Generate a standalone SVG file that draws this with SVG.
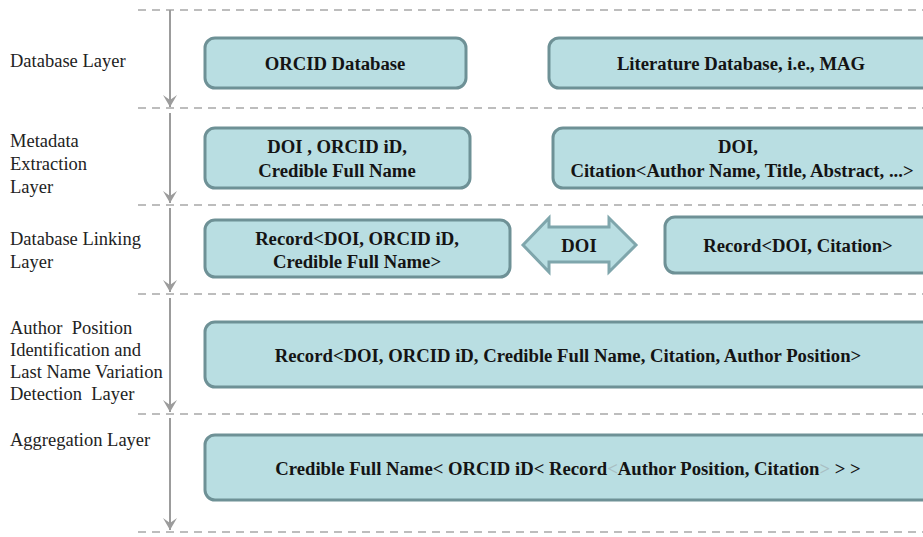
<svg xmlns="http://www.w3.org/2000/svg" width="923" height="537" viewBox="0 0 923 537">
<style>
.sep{stroke:#bdbdbd;stroke-width:2;stroke-dasharray:8 6;fill:none}
.flow{stroke:#9c9c9c;stroke-width:2;fill:none;marker-end:url(#ah)}
.box{fill:#b9dee2;stroke:#6e9196;stroke-width:3}
text{font-family:'Liberation Serif','Tinos','Times New Roman','DejaVu Serif',serif}
.lbl{font-size:18.5px;fill:#222}
.bt{font-size:18.7px;font-weight:bold;fill:#141414;text-anchor:middle}
.faint{fill:#a9bfc3}
</style>
<defs>
<marker id="ah" viewBox="0 0 12 14" refX="12" refY="7" markerWidth="12" markerHeight="14" markerUnits="userSpaceOnUse" orient="auto">
<path d="M0,0 L12,7 L0,14 L5,7 Z" fill="#9c9c9c"/>
</marker>
</defs>
<rect width="923" height="537" fill="#ffffff"/>
<g id="layer-separators">
<line class="sep" x1="138" y1="10" x2="923" y2="10"/>
<line class="sep" x1="138" y1="108" x2="923" y2="108"/>
<line class="sep" x1="138" y1="205" x2="923" y2="205"/>
<line class="sep" x1="138" y1="294" x2="923" y2="294"/>
<line class="sep" x1="138" y1="414" x2="923" y2="414"/>
<line class="sep" x1="138" y1="532" x2="923" y2="532"/>
</g>
<g id="layer-labels">
<text class="lbl" x="10" y="67">Database Layer</text>
<text class="lbl" x="10" y="147">Metadata</text>
<text class="lbl" x="10" y="170">Extraction</text>
<text class="lbl" x="10" y="193">Layer</text>
<text class="lbl" x="10" y="245">Database Linking</text>
<text class="lbl" x="10" y="268">Layer</text>
<text class="lbl" x="10" y="334" xml:space="preserve">Author  Position</text>
<text class="lbl" x="10" y="356">Identification and</text>
<text class="lbl" x="10" y="378">Last Name Variation</text>
<text class="lbl" x="10" y="400" xml:space="preserve">Detection  Layer</text>
<text class="lbl" x="10" y="446">Aggregation Layer</text>
</g>
<g id="connectors">
<path class="flow" d="M170,10 V107"/>
<path class="flow" d="M170,113 V203"/>
<path class="flow" d="M170,208 V292"/>
<path class="flow" d="M170,298 V412"/>
<path class="flow" d="M170,418 V530"/>
</g>
<g id="orcid-database">
<rect class="box" x="205" y="38" width="261" height="50" rx="10"/>
<text class="bt" x="335" y="70">ORCID Database</text>
</g>
<g id="literature-database">
<rect class="box" x="549" y="38" width="400" height="50" rx="10"/>
<text class="bt" x="741" y="70">Literature Database, i.e., MAG</text>
</g>
<g id="orcid-metadata">
<rect class="box" x="205" y="128" width="265" height="60" rx="10"/>
<text class="bt" x="337" y="153">DOI , ORCID iD,</text>
<text class="bt" x="337" y="177">Credible Full Name</text>
</g>
<g id="literature-metadata">
<rect class="box" x="553" y="128" width="400" height="60" rx="10"/>
<text class="bt" x="738" y="153">DOI,</text>
<text class="bt" x="742" y="177">Citation&lt;Author Name, Title, Abstract, ...&gt;</text>
</g>
<g id="orcid-record">
<rect class="box" x="205" y="220" width="305" height="57" rx="10"/>
<text class="bt" x="357" y="245">Record&lt;DOI, ORCID iD,</text>
<text class="bt" x="357" y="268">Credible Full Name&gt;</text>
</g>
<g id="doi-link">
<path d="M523,245 L549,218 L549,227 L609,227 L609,218 L636,245 L609,272 L609,262 L549,262 L549,272 Z" fill="#b9dee2" stroke="#7fa6ac" stroke-width="3" stroke-linejoin="miter"/>
<text class="bt" x="579" y="252">DOI</text>
</g>
<g id="citation-record">
<rect class="box" x="665" y="217" width="290" height="56" rx="10"/>
<text class="bt" x="798" y="252">Record&lt;DOI, Citation&gt;</text>
</g>
<g id="linked-record">
<rect class="box" x="205" y="322" width="740" height="65" rx="10"/>
<text class="bt" x="568" y="362">Record&lt;DOI, ORCID iD, Credible Full Name, Citation, Author Position&gt;</text>
</g>
<g id="aggregation">
<rect class="box" x="205" y="435" width="740" height="65" rx="10"/>
<text class="bt" x="568" y="475">Credible Full Name&lt; ORCID iD&lt; Record<tspan class="faint">&lt;</tspan>Author Position, Citation<tspan class="faint">&gt;</tspan> &gt; &gt;</text>
</g>
</svg>
